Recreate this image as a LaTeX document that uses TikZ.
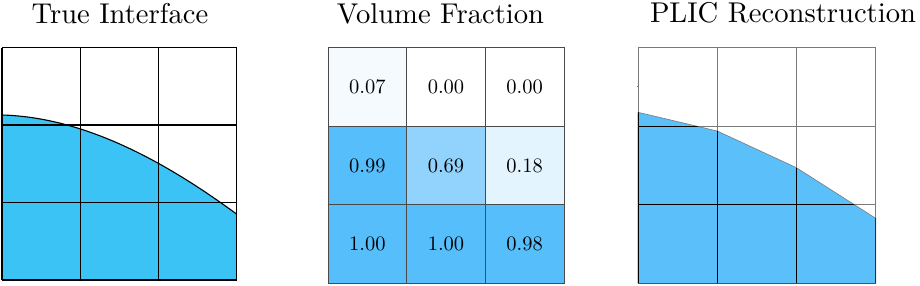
\documentclass[tikz,border=0pt]{standalone}
\usepackage{fontspec}
\setmainfont{lmroman10-regular}[Extension=.otf]
\definecolor{trueblue}{HTML}{3CC3F6}
\definecolor{vfull}{HTML}{56BFFB}
\definecolor{vsixnine}{HTML}{91D3FC}
\definecolor{veighteen}{HTML}{E3F4FE}
\definecolor{vseven}{HTML}{F4FAFE}
\definecolor{plicblue}{HTML}{5BBFF9}
\definecolor{gridgray}{HTML}{4A4A4A}
\definecolor{plicgray}{HTML}{7A7A7A}
\tikzset{
  titletext/.style={font=\fontsize{28.6}{34}\selectfont, anchor=base, inner sep=0pt},
  numtext/.style={font=\fontsize{20.5}{24}\selectfont, inner sep=0pt},
  gridline/.style={line width=1.3pt, black},
  vfcell/.style={draw=gridgray, line width=1pt},
}
\begin{document}
\begin{tikzpicture}[x=1pt,y=-1pt]
\useasboundingbox (0,0) rectangle (920,286);
% ---------- Panel 1: True Interface ----------
\node[titletext] (t1) at (120,24) {True Interface};
\fill[trueblue] plot[domain=0:2.345, samples=80, variable=\t] ({2+100*\t}, {115+2.81*\t+20.3*\t*\t-1.49*\t*\t*\t}) -- (236.5,280) -- (2,280) -- cycle;
\foreach \x in {2,80.2,158.4,236.5} \draw[gridline] (\x,47.7) -- (\x,280);
\foreach \y in {47.7,125.1,202.5,280} \draw[gridline] (2,\y) -- (236.5,\y);
\draw[line width=1.1pt] plot[domain=0:2.345, samples=80, variable=\t] ({2+100*\t}, {115+2.81*\t+20.3*\t*\t-1.49*\t*\t*\t});
% ---------- Panel 2: Volume Fraction ----------
\node[titletext] (t2) at (440.5,23.2) {Volume Fraction};
\path[vfcell, fill=vseven]    (328,47.7)    rectangle (406.7,126.3) node[midway, numtext] (v11) {0.07};
\path[vfcell, fill=white]     (406.7,47.7)  rectangle (485.3,126.3) node[midway, numtext] (v12) {0.00};
\path[vfcell, fill=white]     (485.3,47.7)  rectangle (564,126.3)   node[midway, numtext] (v13) {0.00};
\path[vfcell, fill=vfull]     (328,126.3)   rectangle (406.7,204.7) node[midway, numtext] (v21) {0.99};
\path[vfcell, fill=vsixnine]  (406.7,126.3) rectangle (485.3,204.7) node[midway, numtext] (v22) {0.69};
\path[vfcell, fill=veighteen] (485.3,126.3) rectangle (564,204.7)   node[midway, numtext] (v23) {0.18};
\path[vfcell, fill=vfull]     (328,204.7)   rectangle (406.7,283.3) node[midway, numtext] (v31) {1.00};
\path[vfcell, fill=vfull]     (406.7,204.7) rectangle (485.3,283.3) node[midway, numtext] (v32) {1.00};
\path[vfcell, fill=vfull]     (485.3,204.7) rectangle (564,283.3)   node[midway, numtext] (v33) {0.98};
% ---------- Panel 3: PLIC Reconstruction ----------
\node[titletext] (t3) at (783,22.8) {PLIC Reconstruction};
\foreach \x in {638,717.2,796.4,875.7} \draw[plicgray, line width=1pt] (\x,47.7) -- (\x,283.3);
\foreach \y in {47.7,126.3,204.7,283.3} \draw[plicgray, line width=1pt] (638,\y) -- (875.7,\y);
\fill[plicblue, draw=plicgray, line width=0.6pt] (638,112.3) -- (717.2,131) -- (796.4,167.7) -- (875.7,218.3) -- (875.7,283.3) -- (638,283.3) -- cycle;
\begin{scope}
\clip (638,112.3) -- (717.2,131) -- (796.4,167.7) -- (875.7,218.3) -- (875.7,283.3) -- (638,283.3) -- cycle;
\foreach \x in {638,717.2,796.4,875.7} \draw[black, line width=1.1pt] (\x,47.7) -- (\x,283.3);
\foreach \y in {47.7,126.3,204.7,283.3} \draw[black, line width=1.1pt] (638,\y) -- (875.7,\y);
\end{scope}
\draw[plicgray, line width=0.8pt] (636.5,86) -- (639,86);
\end{tikzpicture}
\end{document}
